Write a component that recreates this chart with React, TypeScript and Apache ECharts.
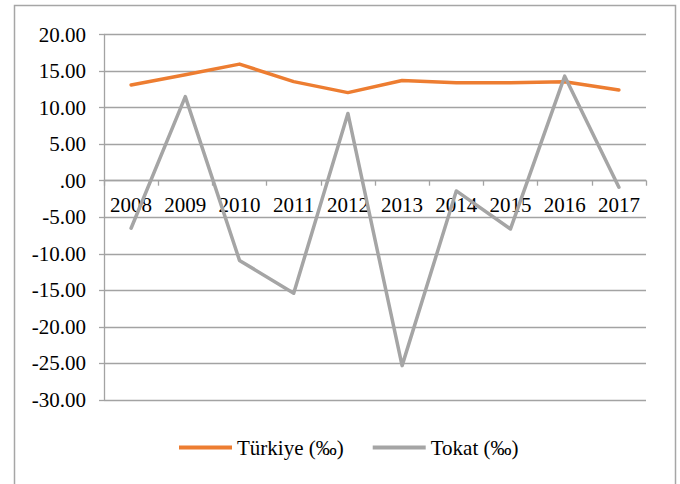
import React, { useEffect, useRef } from "react";
import * as echarts from "echarts";

const years = ["2008", "2009", "2010", "2011", "2012", "2013", "2014", "2015", "2016", "2017"];
const turkiye = [13.1, 14.5, 15.95, 13.55, 12.05, 13.7, 13.4, 13.4, 13.55, 12.4];
const tokat = [-6.5, 11.5, -10.9, -15.4, 9.2, -25.3, -1.4, -6.6, 14.3, -0.9];
const seriesNames = ["Türkiye (‰)", "Tokat (‰)"];
const Y_MIN = -30;
const Y_MAX = 20;

const FONT = "Liberation Serif";
const GRID_COLOR = "#a3a3a3";

function fmt(v: number): string {
  const s = Math.abs(v).toFixed(2);
  const t = s.startsWith("0") ? s.slice(1) : s;
  return (v < 0 ? "-" : "") + t;
}

const GRID_TOP = 34.5;
const GRID_BOTTOM = 84;
const H = 484;

export default function App() {
  const ref = useRef<HTMLDivElement>(null);
  useEffect(() => {
    if (!ref.current) return;
    const chart = echarts.init(ref.current, undefined, { renderer: "svg" });
    const plotH = H - GRID_TOP - GRID_BOTTOM;
    const zeroFromBottom = (0 - Y_MIN) / (Y_MAX - Y_MIN) * plotH;
    chart.setOption({
      animation: false,
      backgroundColor: "#ffffff",
      textStyle: { fontFamily: FONT, color: "#000" },
      graphic: [
        {
          type: "rect",
          shape: { x: 14.5, y: 5.5, width: 661, height: 500 },
          style: { fill: "none", stroke: "#a6a6a6", lineWidth: 1.5 },
          silent: true,
        },
      ],
      grid: { left: 104, right: 34, top: GRID_TOP, bottom: GRID_BOTTOM, containLabel: false },
      legend: {
        left: 179,
        top: 437,
        padding: 0,
        icon: "rect",
        itemWidth: 53,
        itemHeight: 4,
        itemGap: 29,
        textStyle: { fontFamily: FONT, fontSize: 21, color: "#000" },
        data: seriesNames,
      },
      xAxis: {
        type: "category",
        data: years,
        boundaryGap: true,
        offset: -zeroFromBottom,
        axisLine: { show: true, onZero: false, lineStyle: { color: GRID_COLOR, width: 1.3 } },
        axisTick: { show: true, alignWithLabel: false, interval: 0, length: 5, lineStyle: { color: GRID_COLOR, width: 1.3 } },
        axisLabel: { interval: 0, margin: 14, fontFamily: FONT, fontSize: 21, color: "#000" },
        splitLine: { show: false },
      },
      yAxis: {
        type: "value",
        min: Y_MIN,
        max: Y_MAX,
        interval: 5,
        axisLine: { show: true, lineStyle: { color: GRID_COLOR, width: 1.3 } },
        axisTick: { show: true, length: 5, lineStyle: { color: GRID_COLOR, width: 1.3 } },
        axisLabel: { margin: 18, fontFamily: FONT, fontSize: 21, color: "#000", formatter: (v: number) => fmt(v) },
        splitLine: { show: true, lineStyle: { color: GRID_COLOR, width: 1.3 } },
      },
      series: [
        {
          name: seriesNames[0],
          type: "line",
          data: turkiye,
          symbol: "none",
          lineStyle: { color: "#ED7D31", width: 3.5, cap: "round", join: "round" },
          itemStyle: { color: "#ED7D31" },
        },
        {
          name: seriesNames[1],
          type: "line",
          data: tokat,
          symbol: "none",
          lineStyle: { color: "#A5A5A5", width: 3.5, cap: "round", join: "round" },
          itemStyle: { color: "#A5A5A5" },
        },
      ],
    });
    return () => chart.dispose();
  }, []);
  return (
    <div
      ref={ref}
      style={{ position: "fixed", left: 0, top: 0, width: 680, height: 484, background: "#fff" }}
    />
  );
}
